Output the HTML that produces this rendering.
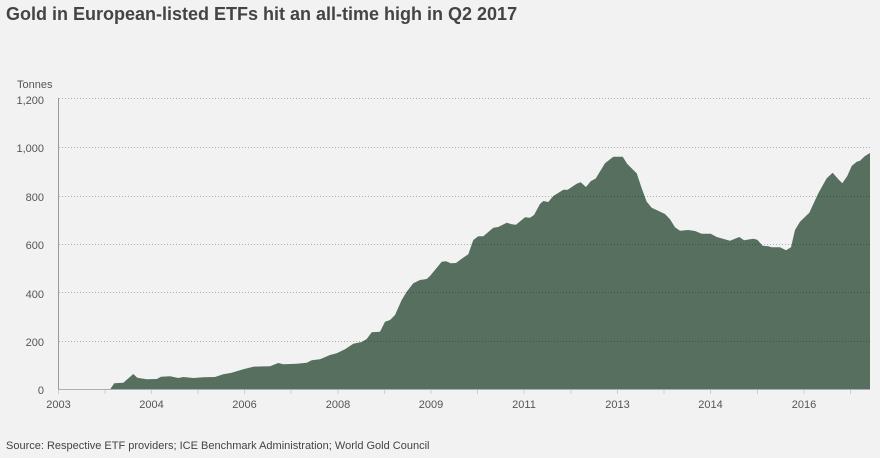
<!DOCTYPE html>
<html><head><meta charset="utf-8"><style>
html,body{margin:0;padding:0;background:#f2f2f2;}
body{width:880px;height:458px;overflow:hidden;position:relative;font-family:"Liberation Sans",Arial,sans-serif;}
.t{position:absolute;left:6px;top:4px;font-size:18px;font-weight:bold;color:#444;white-space:nowrap;}
.s{position:absolute;left:6px;top:440px;font-size:11px;color:#444;white-space:nowrap;}
svg{position:absolute;left:0;top:0;}
</style></head><body>
<div class="t">Gold in European-listed ETFs hit an all-time high in Q2 2017</div>
<svg width="880" height="458" viewBox="0 0 880 458" font-family="Liberation Sans, Arial, sans-serif" font-size="11" fill="#555">
<text x="17" y="88" fill="#555">Tonnes</text>
<g text-anchor="end">
<text x="44" y="104">1,200</text>
<text x="44" y="152">1,000</text>
<text x="44" y="201">800</text>
<text x="44" y="249">600</text>
<text x="44" y="298">400</text>
<text x="44" y="346">200</text>
<text x="44" y="394">0</text>
</g>
<path fill="#566f5f" d="M59,389.5 L110,389.5 L114.3,383.3 L123.3,382.7 L127.3,379.3 L133.3,374 L137.3,377.7 L146.7,379.3 L156.7,379 L161,376.7 L170,376.3 L178.3,378 L183.3,377 L193.3,378 L203.3,377.3 L215,377 L223.3,374.3 L231.7,372.7 L243.3,369.3 L253.3,366.7 L270,366.3 L278.3,363 L283.3,364.3 L296.7,363.7 L306.7,362.7 L311.7,360.3 L320,359.3 L330,355 L336.7,353.3 L345,349.3 L353.3,343.7 L361.7,342 L366.7,339 L371.7,332.3 L380,331.7 L385,321.7 L390,320 L395,315 L401.7,300 L406.7,291.7 L413.3,283.3 L420,280 L426.7,279 L430,276 L441.7,261.7 L446,261.3 L450.7,263.3 L456,263 L461.7,258.7 L468.3,254.3 L473.3,240 L478.3,236.3 L483.3,236.3 L493.3,227.7 L498.3,227 L506.7,222.7 L511.7,224.3 L516,224.7 L525,217.3 L530,217.7 L534,215 L540,204 L543.3,201 L548.3,202 L553.3,196 L563.3,189.7 L567.7,189.7 L576.7,183.7 L580.7,182.3 L586,187 L590.7,181.3 L595.7,178.5 L605,163.3 L613.3,156.7 L622.7,156.7 L627.3,164 L636.7,173.3 L641.7,188.3 L646.7,201.7 L651.7,207.7 L665,214 L670,219.3 L675,227.3 L680,230.7 L688.3,230 L695,231 L701.7,233.7 L710.7,233.7 L716.7,237 L730,240.7 L739.3,237 L744,240.3 L753.3,238.7 L757.3,239.7 L762.7,245.7 L768.3,246.3 L771.7,247.3 L780,247.3 L786,250.3 L791,247.3 L795,230 L800,221.7 L809.3,212.7 L818.3,193.3 L826.7,178.3 L832.7,172.7 L838.3,179.3 L842.3,183.3 L847.3,176 L851.7,166 L856.7,161.7 L860,160.7 L865,156 L870,153 L870,389.5 Z"/>
<g stroke="rgba(0,0,0,0.27)" stroke-width="1" stroke-dasharray="1,2">
<line x1="59" y1="98.5" x2="870" y2="98.5"/>
<line x1="59" y1="147.5" x2="870" y2="147.5"/>
<line x1="59" y1="196.5" x2="870" y2="196.5"/>
<line x1="59" y1="244.5" x2="870" y2="244.5"/>
<line x1="59" y1="292.5" x2="870" y2="292.5"/>
<line x1="59" y1="341.5" x2="870" y2="341.5"/>
</g>
<line x1="58.5" y1="98" x2="58.5" y2="390" stroke="#999" stroke-width="1"/>
<line x1="58" y1="389.5" x2="870" y2="389.5" stroke="#aab0b0" stroke-width="1"/>
<g stroke="#c5d0e6" stroke-width="1">
<line x1="58.5" y1="390" x2="58.5" y2="394"/>
<line x1="105" y1="390" x2="105" y2="394"/>
<line x1="151.5" y1="390" x2="151.5" y2="394"/>
<line x1="198" y1="390" x2="198" y2="394"/>
<line x1="244.5" y1="390" x2="244.5" y2="394"/>
<line x1="291" y1="390" x2="291" y2="394"/>
<line x1="338" y1="390" x2="338" y2="394"/>
<line x1="384.5" y1="390" x2="384.5" y2="394"/>
<line x1="431" y1="390" x2="431" y2="394"/>
<line x1="477.5" y1="390" x2="477.5" y2="394"/>
<line x1="524" y1="390" x2="524" y2="394"/>
<line x1="571" y1="390" x2="571" y2="394"/>
<line x1="617.5" y1="390" x2="617.5" y2="394"/>
<line x1="664" y1="390" x2="664" y2="394"/>
<line x1="710.5" y1="390" x2="710.5" y2="394"/>
<line x1="757.5" y1="390" x2="757.5" y2="394"/>
<line x1="804" y1="390" x2="804" y2="394"/>
<line x1="850.5" y1="390" x2="850.5" y2="394"/>
</g>
<g text-anchor="middle">
<text x="58.5" y="408">2003</text>
<text x="151.5" y="408">2004</text>
<text x="244.5" y="408">2006</text>
<text x="338" y="408">2008</text>
<text x="431" y="408">2009</text>
<text x="524" y="408">2011</text>
<text x="617.5" y="408">2013</text>
<text x="710.5" y="408">2014</text>
<text x="804" y="408">2016</text>
</g>
</svg>
<div class="s">Source: Respective ETF providers; ICE Benchmark Administration; World Gold Council</div>
</body></html>
